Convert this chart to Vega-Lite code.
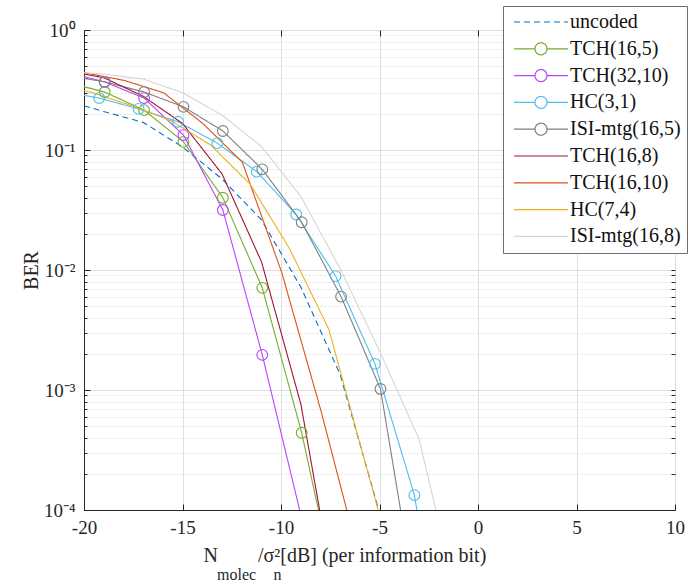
{
 "$schema": "https://vega.github.io/schema/vega-lite/v6.json",
 "width": 591, "height": 480,
 "autosize": {"type": "none"},
 "padding": {"left": 84, "top": 30, "right": 20, "bottom": 77},
 "background": "white",
 "title": {"text": "molec\u2002\u2002\u200An", "orient": "bottom", "anchor": "start", "frame": "group", "dx": 133, "offset": 15, "baseline": "alphabetic", "font": "Liberation Serif", "fontSize": 16, "fontWeight": "normal", "color": "#262626"},
 "config": {
  "view": {"stroke": "#262626", "strokeWidth": 1},
  "axis": {"labelFont": "Liberation Serif", "titleFont": "Liberation Serif", "labelColor": "#262626", "titleColor": "#262626", "titleFontWeight": "normal", "domainColor": "#262626", "tickColor": "#262626"}
 },
 "resolve": {"axis": {"x": "independent", "y": "independent"}},
 "data": {"values": [
  {"s": "uncoded", "x": -20, "y": 0.234}, {"s": "uncoded", "x": -19, "y": 0.209}, {"s": "uncoded", "x": -17, "y": 0.170}, {"s": "uncoded", "x": -15, "y": 0.106}, {"s": "uncoded", "x": -13, "y": 0.0575}, {"s": "uncoded", "x": -11, "y": 0.0263}, {"s": "uncoded", "x": -9, "y": 0.00724}, {"s": "uncoded", "x": -7, "y": 0.00135}, {"s": "uncoded", "x": -5, "y": 0.000095},
  {"s": "TCH(16,5)", "x": -20.95, "y": 0.37}, {"s": "TCH(16,5)", "x": -18.95, "y": 0.304}, {"s": "TCH(16,5)", "x": -16.95, "y": 0.215}, {"s": "TCH(16,5)", "x": -14.95, "y": 0.117}, {"s": "TCH(16,5)", "x": -12.95, "y": 0.040}, {"s": "TCH(16,5)", "x": -10.95, "y": 0.0071}, {"s": "TCH(16,5)", "x": -8.95, "y": 0.00044}, {"s": "TCH(16,5)", "x": -6.95, "y": 0.0000135},
  {"s": "TCH(32,10)", "x": -20.95, "y": 0.45}, {"s": "TCH(32,10)", "x": -18.95, "y": 0.369}, {"s": "TCH(32,10)", "x": -16.95, "y": 0.271}, {"s": "TCH(32,10)", "x": -14.95, "y": 0.133}, {"s": "TCH(32,10)", "x": -12.95, "y": 0.0316}, {"s": "TCH(32,10)", "x": -10.95, "y": 0.00196}, {"s": "TCH(32,10)", "x": -8.95, "y": 0.000085},
  {"s": "HC(3,1)", "x": -21.23, "y": 0.31}, {"s": "HC(3,1)", "x": -19.23, "y": 0.271}, {"s": "HC(3,1)", "x": -17.23, "y": 0.22}, {"s": "HC(3,1)", "x": -15.23, "y": 0.172}, {"s": "HC(3,1)", "x": -13.23, "y": 0.114}, {"s": "HC(3,1)", "x": -11.23, "y": 0.066}, {"s": "HC(3,1)", "x": -9.23, "y": 0.029}, {"s": "HC(3,1)", "x": -7.23, "y": 0.0089}, {"s": "HC(3,1)", "x": -5.23, "y": 0.00165}, {"s": "HC(3,1)", "x": -3.23, "y": 0.000133}, {"s": "HC(3,1)", "x": -1.23, "y": 0.0000016},
  {"s": "ISI-mtg(16,5)", "x": -20.95, "y": 0.42}, {"s": "ISI-mtg(16,5)", "x": -18.95, "y": 0.37}, {"s": "ISI-mtg(16,5)", "x": -16.95, "y": 0.304}, {"s": "ISI-mtg(16,5)", "x": -14.95, "y": 0.229}, {"s": "ISI-mtg(16,5)", "x": -12.95, "y": 0.144}, {"s": "ISI-mtg(16,5)", "x": -10.95, "y": 0.069}, {"s": "ISI-mtg(16,5)", "x": -8.95, "y": 0.025}, {"s": "ISI-mtg(16,5)", "x": -6.95, "y": 0.006}, {"s": "ISI-mtg(16,5)", "x": -4.95, "y": 0.00102}, {"s": "ISI-mtg(16,5)", "x": -2.95, "y": 0.0000107},
  {"s": "TCH(16,8)", "x": -20.99, "y": 0.46}, {"s": "TCH(16,8)", "x": -18.99, "y": 0.40}, {"s": "TCH(16,8)", "x": -16.99, "y": 0.28}, {"s": "TCH(16,8)", "x": -14.99, "y": 0.166}, {"s": "TCH(16,8)", "x": -12.99, "y": 0.063}, {"s": "TCH(16,8)", "x": -10.99, "y": 0.0117}, {"s": "TCH(16,8)", "x": -8.99, "y": 0.00076}, {"s": "TCH(16,8)", "x": -6.99, "y": 0.0000107},
  {"s": "TCH(16,10)", "x": -21.96, "y": 0.47}, {"s": "TCH(16,10)", "x": -19.96, "y": 0.44}, {"s": "TCH(16,10)", "x": -17.96, "y": 0.38}, {"s": "TCH(16,10)", "x": -15.96, "y": 0.30}, {"s": "TCH(16,10)", "x": -13.96, "y": 0.166}, {"s": "TCH(16,10)", "x": -11.96, "y": 0.079}, {"s": "TCH(16,10)", "x": -9.96, "y": 0.0095}, {"s": "TCH(16,10)", "x": -7.96, "y": 0.00066}, {"s": "TCH(16,10)", "x": -5.96, "y": 0.000036},
  {"s": "HC(7,4)", "x": -21.57, "y": 0.36}, {"s": "HC(7,4)", "x": -19.57, "y": 0.30}, {"s": "HC(7,4)", "x": -17.57, "y": 0.234}, {"s": "HC(7,4)", "x": -15.57, "y": 0.175}, {"s": "HC(7,4)", "x": -13.57, "y": 0.11}, {"s": "HC(7,4)", "x": -11.57, "y": 0.052}, {"s": "HC(7,4)", "x": -9.57, "y": 0.0151}, {"s": "HC(7,4)", "x": -7.57, "y": 0.0032}, {"s": "HC(7,4)", "x": -5.57, "y": 0.0002}, {"s": "HC(7,4)", "x": -3.57, "y": 0.0000126},
  {"s": "ISI-mtg(16,8)", "x": -20.99, "y": 0.45}, {"s": "ISI-mtg(16,8)", "x": -18.99, "y": 0.43}, {"s": "ISI-mtg(16,8)", "x": -16.99, "y": 0.39}, {"s": "ISI-mtg(16,8)", "x": -14.99, "y": 0.30}, {"s": "ISI-mtg(16,8)", "x": -12.99, "y": 0.195}, {"s": "ISI-mtg(16,8)", "x": -10.99, "y": 0.107}, {"s": "ISI-mtg(16,8)", "x": -8.99, "y": 0.041}, {"s": "ISI-mtg(16,8)", "x": -6.99, "y": 0.0102}, {"s": "ISI-mtg(16,8)", "x": -4.99, "y": 0.0021}, {"s": "ISI-mtg(16,8)", "x": -2.99, "y": 0.00039}, {"s": "ISI-mtg(16,8)", "x": -0.99, "y": 0.000016}
 ]},
 "layer": [
  {
   "mark": {"type": "line", "clip": true, "strokeWidth": 1.1},
   "encoding": {
    "x": {"field": "x", "type": "quantitative", "scale": {"domain": [-20, 10], "nice": false, "zero": false},
     "axis": {"values": [-20, -15, -10, -5, 0, 5, 10], "labelExpr": "replace(datum.label, '−', '-')", "grid": true, "gridColor": "#dedede", "tickSize": -6, "labelFont": "Liberation Serif", "labelFontSize": 19, "labelPadding": 14, "labelFlush": false,
      "title": "N\u2003\u2003/σ²[dB] (per information bit)", "titleFont": "Liberation Serif", "titleFontSize": 20, "titleAlign": "left", "titleBaseline": "alphabetic", "titleX": 119, "titleY": 51}},
    "y": {"field": "y", "type": "quantitative", "scale": {"type": "log", "domain": [0.0001, 1], "nice": false},
     "axis": {"values": [1, 0.1, 0.01, 0.001, 0.0001], "labelExpr": "round(log(datum.value)/LN10) == 0 ? '10⁰' : round(log(datum.value)/LN10) == -1 ? '10⁻¹' : round(log(datum.value)/LN10) == -2 ? '10⁻²' : round(log(datum.value)/LN10) == -3 ? '10⁻³' : '10⁻⁴'", "grid": true, "gridColor": "#dedede", "tickSize": -6, "labelFont": "Liberation Serif", "labelFontSize": 19, "labelPadding": 15, "title": "BER", "titleFont": "Liberation Serif", "titleFontSize": 20, "titlePadding": 2}},
    "color": {"field": "s", "type": "nominal",
     "scale": {"domain": ["uncoded", "TCH(16,5)", "TCH(32,10)", "HC(3,1)", "ISI-mtg(16,5)", "TCH(16,8)", "TCH(16,10)", "HC(7,4)", "ISI-mtg(16,8)"],
      "range": ["#0072BD", "#77AC30", "#B845FF", "#4DBEEE", "#808080", "#A2142F", "#D95319", "#EDB120", "#D6D6D6"]},
     "legend": {"orient": "none", "legendX": 419, "legendY": -24, "title": null, "strokeColor": "#6e6e6e", "fillColor": "#ffffff", "padding": 6, "labelFont": "Liberation Serif", "labelFontSize": 20, "labelColor": "#111", "symbolSize": 16, "symbolOffset": 22, "labelOffset": 19, "rowPadding": 6.8,
      "encode": {"symbols": {"update": {
       "shape": {"signal": "indexof(['TCH(16,5)','TCH(32,10)','HC(3,1)','ISI-mtg(16,5)'], datum.value) >= 0 ? 'M-13.5,0H-3M3,0H13.5M3,0A3,3 0 1,1 -3,0A3,3 0 1,1 3,0' : 'M-13.5,0H13.5'"},
       "fill": {"value": "transparent"},
       "stroke": {"scale": "color", "field": "value"},
       "strokeDash": {"signal": "datum.value == 'uncoded' ? [5,3] : [1,0]"},
       "strokeWidth": {"value": 1.2},
       "opacity": {"value": 1}}}}}},
    "strokeDash": {"field": "s", "type": "nominal", "legend": null,
     "scale": {"domain": ["uncoded", "TCH(16,5)", "TCH(32,10)", "HC(3,1)", "ISI-mtg(16,5)", "TCH(16,8)", "TCH(16,10)", "HC(7,4)", "ISI-mtg(16,8)"],
      "range": [[6, 4], [1, 0], [1, 0], [1, 0], [1, 0], [1, 0], [1, 0], [1, 0], [1, 0]]}}
   }
  },
  {
   "transform": [{"filter": {"field": "s", "oneOf": ["TCH(16,5)", "TCH(32,10)", "HC(3,1)", "ISI-mtg(16,5)"]}}],
   "mark": {"type": "point", "shape": "circle", "filled": false, "size": 115, "strokeWidth": 1.1, "clip": true, "opacity": 1},
   "encoding": {
    "x": {"field": "x", "type": "quantitative", "axis": {"orient": "top", "values": [-20, -15, -10, -5, 0, 5, 10], "labels": false, "tickSize": -6, "grid": false, "domain": false, "title": null}},
    "y": {"field": "y", "type": "quantitative", "axis": {"orient": "left", "values": [0.9,0.8,0.7,0.6,0.5,0.4,0.3,0.2,0.09,0.08,0.07,0.06,0.05,0.04,0.03,0.02,0.009,0.008,0.007,0.006,0.005,0.004,0.003,0.002,0.0009,0.0008,0.0007,0.0006,0.0005,0.0004,0.0003,0.0002], "labels": false, "tickSize": -3, "grid": true, "gridColor": "#e2e2e2", "gridDash": [2, 2], "domain": false, "title": null}},
    "color": {"field": "s", "type": "nominal"}
   }
  },
  {
   "mark": {"type": "point", "opacity": 0, "clip": true},
   "encoding": {
    "x": {"field": "x", "type": "quantitative", "axis": null},
    "y": {"field": "y", "type": "quantitative", "axis": {"orient": "right", "values": [1,0.9,0.8,0.7,0.6,0.5,0.4,0.3,0.2,0.1,0.09,0.08,0.07,0.06,0.05,0.04,0.03,0.02,0.01,0.009,0.008,0.007,0.006,0.005,0.004,0.003,0.002,0.001,0.0009,0.0008,0.0007,0.0006,0.0005,0.0004,0.0003,0.0002,0.0001], "labels": false, "tickSize": -4, "grid": false, "domain": false, "title": null}}
   }
  }
 ]
}
